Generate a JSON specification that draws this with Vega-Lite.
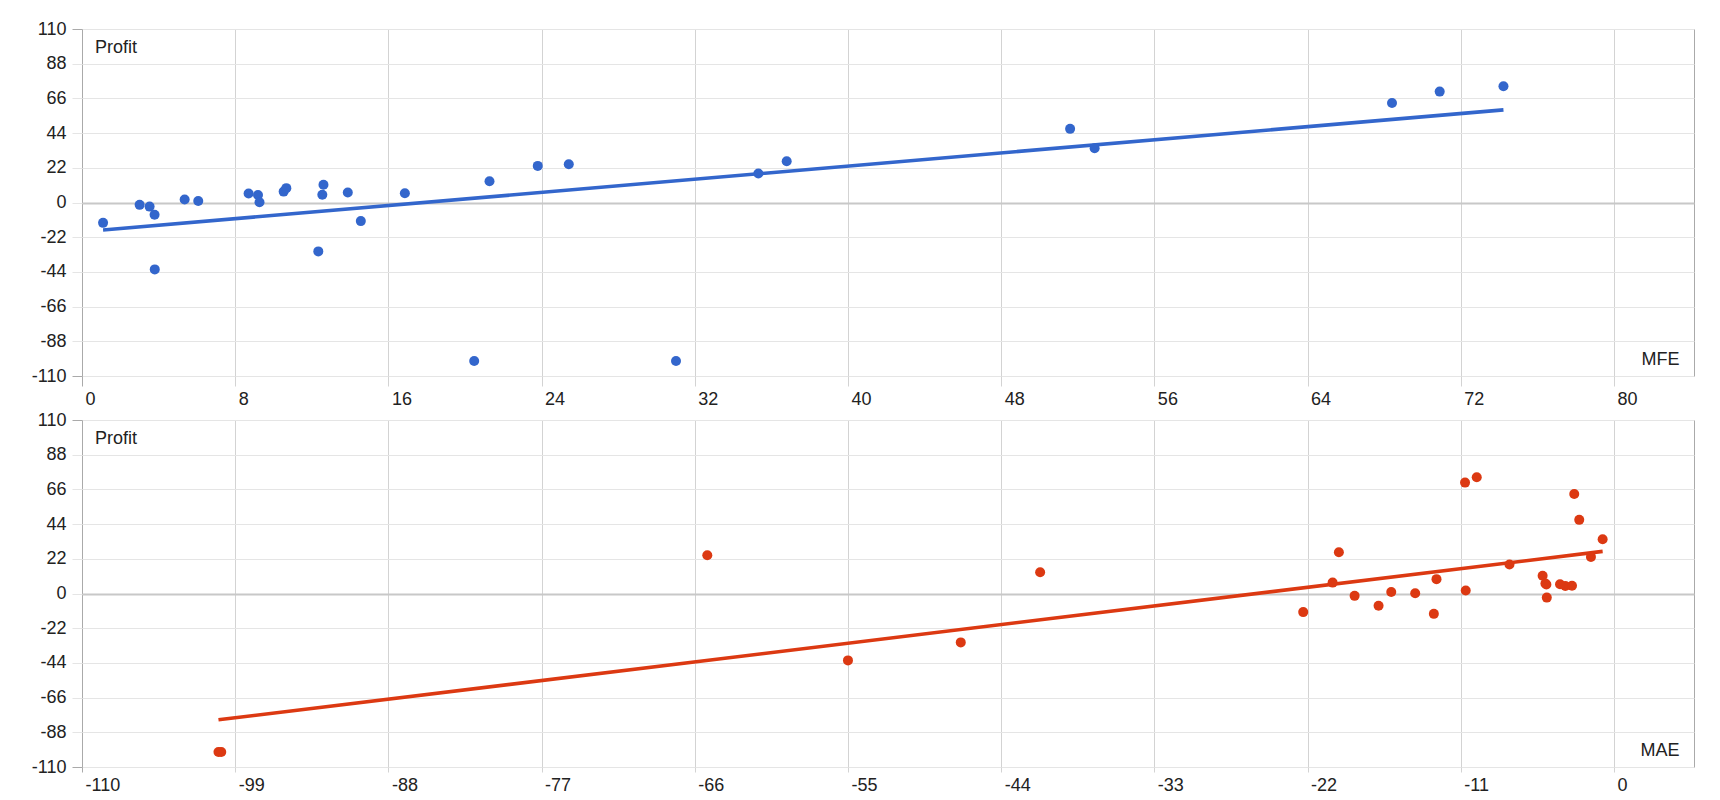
{
  "$schema": "https://vega.github.io/schema/vega-lite/v6.json",
  "padding": {"left": 30, "top": 19, "right": 10, "bottom": 4},
  "data": {
    "values": [
      {"MFE": 1.1, "MAE": -12.93, "Profit": -12.9},
      {"MFE": 3.01, "MAE": -18.62, "Profit": -1.5},
      {"MFE": 3.53, "MAE": -4.82, "Profit": -2.6},
      {"MFE": 3.79, "MAE": -16.9, "Profit": -7.8},
      {"MFE": 3.8, "MAE": -55.0, "Profit": -42.4},
      {"MFE": 5.36, "MAE": -10.64, "Profit": 1.9},
      {"MFE": 6.07, "MAE": -15.99, "Profit": 1.0},
      {"MFE": 8.7, "MAE": -4.85, "Profit": 5.7},
      {"MFE": 9.19, "MAE": -3.49, "Profit": 4.7},
      {"MFE": 9.27, "MAE": -14.27, "Profit": 0.2},
      {"MFE": 10.53, "MAE": -20.2, "Profit": 6.9},
      {"MFE": 10.67, "MAE": -12.74, "Profit": 9.1},
      {"MFE": 12.34, "MAE": -46.9, "Profit": -31.0},
      {"MFE": 12.55, "MAE": -3.01, "Profit": 4.9},
      {"MFE": 12.61, "MAE": -5.12, "Profit": 11.2},
      {"MFE": 13.88, "MAE": -4.92, "Profit": 6.3},
      {"MFE": 14.56, "MAE": -22.31, "Profit": -11.8},
      {"MFE": 16.86, "MAE": -3.87, "Profit": 5.9},
      {"MFE": 20.48, "MAE": -100.2, "Profit": -100.5},
      {"MFE": 21.28, "MAE": -41.2, "Profit": 13.5},
      {"MFE": 23.8, "MAE": -1.65, "Profit": 23.2},
      {"MFE": 25.42, "MAE": -65.1, "Profit": 24.3},
      {"MFE": 31.02, "MAE": -100.0, "Profit": -100.5},
      {"MFE": 35.32, "MAE": -7.5, "Profit": 18.4},
      {"MFE": 36.8, "MAE": -19.75, "Profit": 26.2},
      {"MFE": 51.6, "MAE": -2.49, "Profit": 46.7},
      {"MFE": 52.88, "MAE": -0.81, "Profit": 34.4},
      {"MFE": 68.41, "MAE": -2.85, "Profit": 63.1},
      {"MFE": 70.9, "MAE": -10.69, "Profit": 70.3},
      {"MFE": 74.23, "MAE": -9.85, "Profit": 73.7}
    ]
  },
  "spacing": 44,
  "bounds": "flush",
  "vconcat": [
    {
      "width": 1612,
      "height": 347,
      "layer": [
        {
          "transform": [{"regression": "Profit", "on": "MFE"}],
          "mark": {"type": "line", "color": "#3366cc", "strokeWidth": 3.6},
          "encoding": {
            "x": {
              "field": "MFE",
              "type": "quantitative",
              "scale": {"domain": [0, 84.18], "nice": false, "zero": false},
              "axis": {
                "title": "MFE",
                "values": [0, 8, 16, 24, 32, 40, 48, 56, 64, 72, 80],
                "tickCount": 30,
                "labelAlign": "left",
                "labelOffset": 3,
                "labelFlush": false,
                "labelOverlap": false,
                "labelPadding": 4.5,
                "tickSize": 10,
                "gridColor": {"condition": {"test": "datum.value === 0", "value": "#aaaaaa"}, "value": "#d3d3d3"},
                "tickColor": {"condition": {"test": "datum.value === 0", "value": "#aaaaaa"}, "value": "#d3d3d3"},
                "titleX": 1597,
                "titleY": -16.3,
                "titleAlign": "right",
                "titleBaseline": "middle"
              }
            },
            "y": {
              "field": "Profit",
              "type": "quantitative",
              "scale": {"domain": [-110, 110], "nice": false},
              "axis": {
                "title": "Profit",
                "values": [-110, -88, -66, -44, -22, 0, 22, 44, 66, 88, 110],
                "tickCount": 30,
                "labelAlign": "right",
                "labelOverlap": false,
                "labelPadding": 6,
                "tickSize": 10,
                "gridColor": {"condition": {"test": "datum.value === 0", "value": "#c8c8c8"}, "value": "#e5e5e5"},
                "gridWidth": {"condition": {"test": "datum.value === 0", "value": 2}, "value": 1},
                "tickColor": {"condition": {"test": "abs(datum.value) === 110", "value": "#aaaaaa"}, "value": "#e5e5e5"},
                "titleAngle": 0,
                "titleX": 12.5,
                "titleY": 18.3,
                "titleAlign": "left",
                "titleBaseline": "middle"
              }
            }
          }
        },
        {
          "mark": {"type": "circle", "size": 100, "opacity": 1, "color": "#3366cc"},
          "encoding": {
            "x": {"field": "MFE", "type": "quantitative"},
            "y": {"field": "Profit", "type": "quantitative"}
          }
        }
      ]
    },
    {
      "width": 1612,
      "height": 347,
      "layer": [
        {
          "transform": [{"regression": "Profit", "on": "MAE"}],
          "mark": {"type": "line", "color": "#dc3912", "strokeWidth": 3.6},
          "encoding": {
            "x": {
              "field": "MAE",
              "type": "quantitative",
              "scale": {"domain": [-110, 5.75], "nice": false, "zero": false},
              "axis": {
                "title": "MAE",
                "values": [-110, -99, -88, -77, -66, -55, -44, -33, -22, -11, 0],
                "tickCount": 30,
                "labelAlign": "left",
                "labelOffset": 3,
                "labelFlush": false,
                "labelOverlap": false,
                "labelPadding": 4,
                "tickSize": 5,
                "gridColor": {"condition": {"test": "datum.value === -110", "value": "#aaaaaa"}, "value": "#d3d3d3"},
                "tickColor": {"condition": {"test": "datum.value === -110", "value": "#aaaaaa"}, "value": "#d3d3d3"},
                "titleX": 1597,
                "titleY": -16.3,
                "titleAlign": "right",
                "titleBaseline": "middle"
              }
            },
            "y": {
              "field": "Profit",
              "type": "quantitative",
              "scale": {"domain": [-110, 110], "nice": false},
              "axis": {
                "title": "Profit",
                "values": [-110, -88, -66, -44, -22, 0, 22, 44, 66, 88, 110],
                "tickCount": 30,
                "labelAlign": "right",
                "labelOverlap": false,
                "labelPadding": 6,
                "tickSize": 10,
                "gridColor": {"condition": {"test": "datum.value === 0", "value": "#c8c8c8"}, "value": "#e5e5e5"},
                "gridWidth": {"condition": {"test": "datum.value === 0", "value": 2}, "value": 1},
                "tickColor": {"condition": {"test": "abs(datum.value) === 110", "value": "#aaaaaa"}, "value": "#e5e5e5"},
                "titleAngle": 0,
                "titleX": 12.5,
                "titleY": 18.3,
                "titleAlign": "left",
                "titleBaseline": "middle"
              }
            }
          }
        },
        {
          "mark": {"type": "circle", "size": 100, "opacity": 1, "color": "#dc3912"},
          "encoding": {
            "x": {"field": "MAE", "type": "quantitative"},
            "y": {"field": "Profit", "type": "quantitative"}
          }
        }
      ]
    }
  ],
  "config": {
    "background": "white",
    "view": {"stroke": "#aaaaaa"},
    "axis": {
      "domain": false,
      "grid": true,
      "labelExpr": "'' + datum.value",
      "labelFont": "Liberation Sans",
      "labelFontSize": 18,
      "labelColor": "#222222",
      "titleFont": "Liberation Sans",
      "titleFontSize": 18,
      "titleFontWeight": "normal",
      "titleColor": "#222222"
    }
  }
}
